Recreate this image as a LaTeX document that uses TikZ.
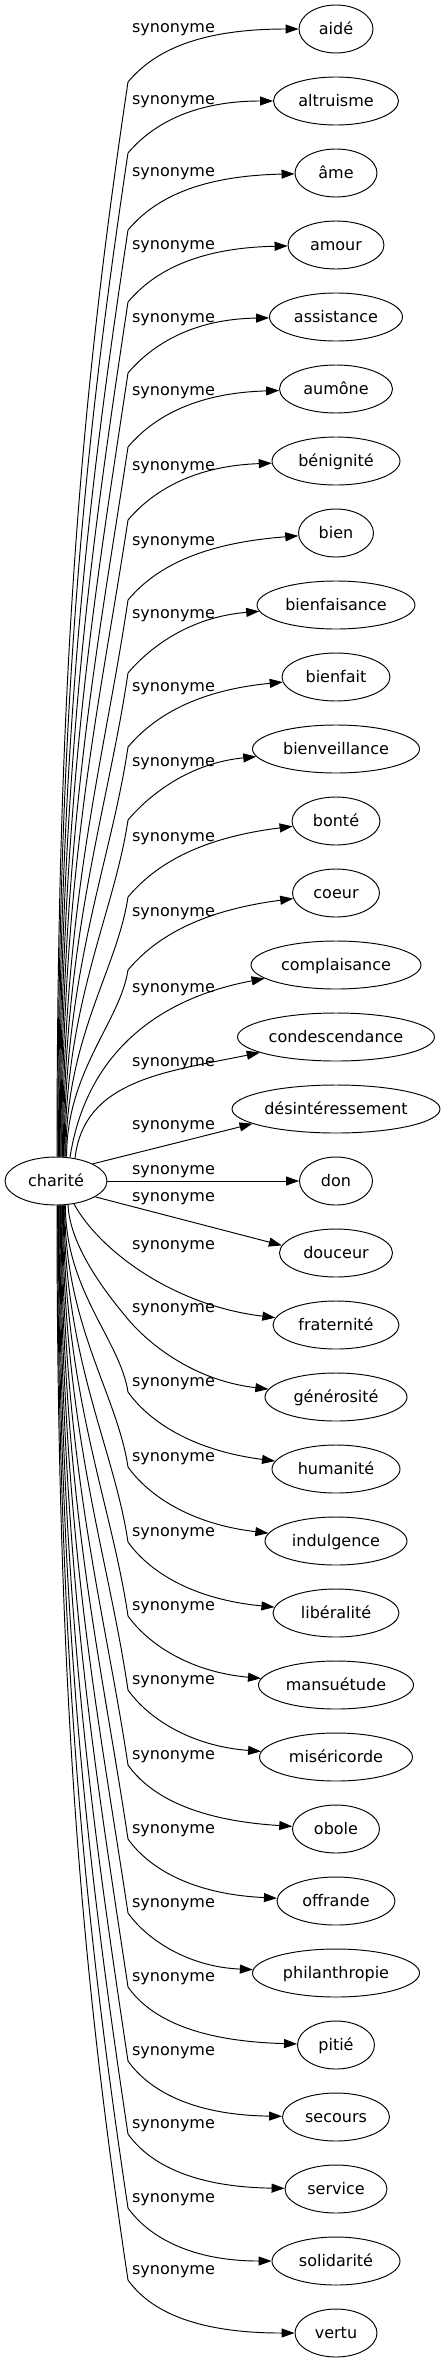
\documentclass[tikz,border=0pt]{standalone}
\usepackage{fontspec}
\setmainfont{DejaVu Sans}
\usetikzlibrary{shapes.geometric,arrows.meta}
\tikzset{
  syn/.style={ellipse, draw, line width=0.95pt, minimum height=48pt, inner sep=0pt, text height=13pt, text depth=2.5pt},
  lab/.style={inner sep=0pt, text height=13pt, text depth=2.5pt},
  edge/.style={line width=0.95pt, -{Triangle[length=13pt,width=9pt]}}
}
\begin{document}
\begin{tikzpicture}[x={(1pt,0)}, y={(0,-1pt)}, font=\fontsize{16pt}{19pt}\selectfont]
\useasboundingbox (0,0) rectangle (446,2363);
\node[syn, minimum width=102pt] (c) at (56,1181) {charité};
\node[syn, minimum width=74pt]  (n0)  at (336,29)   {aidé};
\node[syn, minimum width=125pt] (n1)  at (336,101)  {altruisme};
\node[syn, minimum width=82pt]  (n2)  at (336,173)  {âme};
\node[syn, minimum width=96pt]  (n3)  at (336,245)  {amour};
\node[syn, minimum width=133pt] (n4)  at (336,317)  {assistance};
\node[syn, minimum width=113pt] (n5)  at (336,389)  {aumône};
\node[syn, minimum width=128pt] (n6)  at (336,461)  {bénignité};
\node[syn, minimum width=75pt]  (n7)  at (336,533)  {bien};
\node[syn, minimum width=158pt] (n8)  at (336,605)  {bienfaisance};
\node[syn, minimum width=108pt] (n9)  at (336,677)  {bienfait};
\node[syn, minimum width=167pt] (n10) at (336,749)  {bienveillance};
\node[syn, minimum width=88pt]  (n11) at (336,821)  {bonté};
\node[syn, minimum width=87pt]  (n12) at (336,893)  {coeur};
\node[syn, minimum width=170pt] (n13) at (336,965)  {complaisance};
\node[syn, minimum width=197pt] (n14) at (336,1037) {condescendance};
\node[syn, minimum width=208pt] (n15) at (336,1109) {désintéressement};
\node[syn, minimum width=73pt]  (n16) at (336,1181) {don};
\node[syn, minimum width=113pt] (n17) at (336,1253) {douceur};
\node[syn, minimum width=126pt] (n18) at (336,1325) {fraternité};
\node[syn, minimum width=142pt] (n19) at (336,1397) {générosité};
\node[syn, minimum width=128pt] (n20) at (336,1469) {humanité};
\node[syn, minimum width=142pt] (n21) at (336,1541) {indulgence};
\node[syn, minimum width=126pt] (n22) at (336,1613) {libéralité};
\node[syn, minimum width=155pt] (n23) at (336,1685) {mansuétude};
\node[syn, minimum width=153pt] (n24) at (336,1757) {miséricorde};
\node[syn, minimum width=87pt]  (n25) at (336,1829) {obole};
\node[syn, minimum width=118pt] (n26) at (336,1901) {offrande};
\node[syn, minimum width=167pt] (n27) at (336,1973) {philanthropie};
\node[syn, minimum width=77pt]  (n28) at (336,2045) {pitié};
\node[syn, minimum width=107pt] (n29) at (336,2117) {secours};
\node[syn, minimum width=102pt] (n30) at (336,2189) {service};
\node[syn, minimum width=128pt] (n31) at (336,2261) {solidarité};
\node[syn, minimum width=82pt]  (n32) at (336,2333) {vertu};
% labels
\node[lab] (l0)  at (173.5,27)   {synonyme};
\node[lab] (l1)  at (173.5,99)   {synonyme};
\node[lab] (l2)  at (173.5,171)  {synonyme};
\node[lab] (l3)  at (173.5,244)  {synonyme};
\node[lab] (l4)  at (173.5,317)  {synonyme};
\node[lab] (l5)  at (173.5,390)  {synonyme};
\node[lab] (l6)  at (173.5,465)  {synonyme};
\node[lab] (l7)  at (173.5,540)  {synonyme};
\node[lab] (l8)  at (173.5,613)  {synonyme};
\node[lab] (l9)  at (173.5,686)  {synonyme};
\node[lab] (l10) at (173.5,761)  {synonyme};
\node[lab] (l11) at (173.5,836)  {synonyme};
\node[lab] (l12) at (173.5,911)  {synonyme};
\node[lab] (l13) at (173.5,987)  {synonyme};
\node[lab] (l14) at (173.5,1061) {synonyme};
\node[lab] (l15) at (173.5,1124) {synonyme};
\node[lab] (l16) at (173.5,1169) {synonyme};
\node[lab] (l17) at (173.5,1196) {synonyme};
\node[lab] (l18) at (173.5,1244) {synonyme};
\node[lab] (l19) at (173.5,1307) {synonyme};
\node[lab] (l20) at (173.5,1381) {synonyme};
\node[lab] (l21) at (173.5,1456) {synonyme};
\node[lab] (l22) at (173.5,1531) {synonyme};
\node[lab] (l23) at (173.5,1605) {synonyme};
\node[lab] (l24) at (173.5,1679) {synonyme};
\node[lab] (l25) at (173.5,1754) {synonyme};
\node[lab] (l26) at (173.5,1828) {synonyme};
\node[lab] (l27) at (173.5,1902) {synonyme};
\node[lab] (l28) at (173.5,1976) {synonyme};
\node[lab] (l29) at (173.5,2050) {synonyme};
\node[lab] (l30) at (173.5,2123) {synonyme};
\node[lab] (l31) at (173.5,2197) {synonyme};
\node[lab] (l32) at (173.5,2269) {synonyme};
% upper edges
\draw[edge] ([xshift=1pt]c.north) .. controls (57,662) and (83,383) .. (128,82) .. controls (150,56) and (190,29) .. (n0);
\draw[edge] ([xshift=1.8pt]c.north) .. controls (57.8,695) and (86,434) .. (128,153) .. controls (150,127) and (190,101) .. (n1);
\draw[edge] ([xshift=2.6pt]c.north) .. controls (58.6,731) and (89,490) .. (128,230) .. controls (150,204) and (190,176) .. (n2);
\draw[edge] ([xshift=3.4pt]c.north) .. controls (59.4,764) and (92,541) .. (128,302) .. controls (150,276) and (190,248) .. (n3);
\draw[edge] ([xshift=4.2pt]c.north) .. controls (60.2,796) and (95,593) .. (128,373) .. controls (150,347) and (190,319) .. (n4);
\draw[edge] ([xshift=5pt]c.north) .. controls (61,830) and (98,646) .. (128,447) .. controls (150,421) and (190,393) .. (n5);
\draw[edge] ([xshift=5.8pt]c.north) .. controls (61.8,864) and (101,698) .. (128,520) .. controls (150,494) and (190,466) .. (n6);
\draw[edge] ([xshift=6.6pt]c.north) .. controls (62.6,901) and (105,756) .. (128,600) .. controls (150,574) and (190,544) .. (n7);
\draw[edge] ([xshift=7.4pt]c.north) .. controls (63.4,934) and (108,809) .. (128,673) .. controls (150,647) and (190,617) .. (n8);
\draw[edge] ([xshift=8.2pt]c.north) .. controls (64.2,968) and (111,862) .. (128,747) .. controls (150,721) and (190,691) .. (n9);
\draw[edge] ([xshift=9pt]c.north) .. controls (65,1002) and (114,914) .. (128,820) .. controls (150,794) and (190,763) .. (n10);
\draw[edge] ([xshift=9.8pt]c.north) .. controls (65.8,1037) and (117,970) .. (128,897) .. controls (150,871) and (190,839) .. (n11);
\draw[edge] ([xshift=10.6pt]c.north) .. controls (66.6,1071) and (120,1022) .. (128,970) .. controls (150,944) and (190,912) .. (n12);
\draw[edge] ([shift={(14,0.9)}]c.north) .. controls (85,1060) and (150,1000) .. (n13);
\draw[edge] ([shift={(19,1.7)}]c.north) .. controls (84,1080) and (165,1072) .. (n14);
\draw[edge] (c.25) -- (n15.190);
% middle
\draw[edge] (c) -- (n16);
\draw[edge] (c.-22) -- (n17.172);
% lower edges
\draw[edge] ([shift={(18,-1.5)}]c.south) .. controls (98,1248) and (170,1305) .. (n18);
\draw[edge] ([shift={(12,-0.7)}]c.south) .. controls (70,1250) and (113,1301) .. (127,1318) .. controls (145,1340) and (190,1380) .. (n19);
\draw[edge] ([xshift=9.4pt]c.south) .. controls (65.4,1291) and (120,1340) .. (128,1392) .. controls (148,1420) and (190,1450) .. (n20);
\draw[edge] ([xshift=8.7pt]c.south) .. controls (64.7,1326) and (117,1394) .. (128,1467) .. controls (148,1495) and (190,1524) .. (n21);
\draw[edge] ([xshift=8pt]c.south) .. controls (64,1360) and (114,1448) .. (128,1542) .. controls (148,1570) and (190,1599) .. (n22);
\draw[edge] ([xshift=7.3pt]c.south) .. controls (63.3,1394) and (111,1501) .. (128,1616) .. controls (148,1644) and (190,1672) .. (n23);
\draw[edge] ([xshift=6.6pt]c.south) .. controls (62.6,1428) and (108,1554) .. (128,1690) .. controls (148,1718) and (190,1746) .. (n24);
\draw[edge] ([xshift=5.9pt]c.south) .. controls (61.9,1463) and (104.5,1608) .. (128,1765) .. controls (148,1793) and (190,1820) .. (n25);
\draw[edge] ([xshift=5.2pt]c.south) .. controls (61.2,1497) and (101.4,1661) .. (128,1839) .. controls (148,1867) and (190,1894) .. (n26);
\draw[edge] ([xshift=4.5pt]c.south) .. controls (60.5,1531) and (98.3,1715) .. (128,1913) .. controls (148,1941) and (190,1967) .. (n27);
\draw[edge] ([xshift=3.8pt]c.south) .. controls (59.8,1565) and (95.2,1768) .. (128,1987) .. controls (148,2015) and (190,2041) .. (n28);
\draw[edge] ([xshift=3.1pt]c.south) .. controls (59.1,1599) and (92,1821) .. (128,2061) .. controls (148,2089) and (190,2115) .. (n29);
\draw[edge] ([xshift=2.4pt]c.south) .. controls (58.4,1632) and (89,1874) .. (128,2134) .. controls (148,2162) and (190,2187) .. (n30);
\draw[edge] ([xshift=1.7pt]c.south) .. controls (57.7,1666) and (85.9,1927) .. (128,2208) .. controls (148,2236) and (190,2261) .. (n31);
\draw[edge] ([xshift=1pt]c.south) .. controls (57,1700) and (82.8,1979) .. (128,2280) .. controls (148,2308) and (190,2333) .. (n32);
\end{tikzpicture}
\end{document}
